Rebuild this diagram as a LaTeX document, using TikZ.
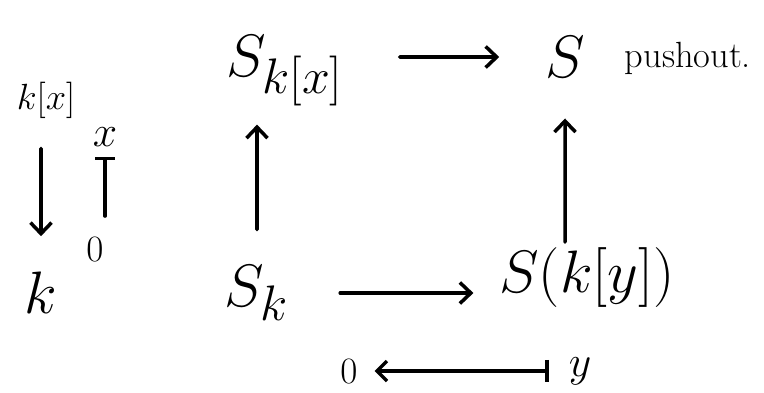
\documentclass[tikz,border=0pt]{standalone}
\usepackage{amsmath,amssymb}
\usetikzlibrary{arrows.meta, positioning, calc}

\begin{document}
\begin{tikzpicture}[>={Straight Barb[length=2.2mm, width=4.2mm]}, line width=2pt, line cap=round,
  obj/.style={font=\Huge, scale=1.37, transform shape, inner sep=1.5pt},
  smallobj/.style={font=\huge, inner sep=2pt},
  lbl/.style={font=\Huge, inner sep=2pt},
  digit/.style={font=\Huge, scale=0.85, transform shape, inner sep=2pt},
  maparrow/.style={->},
  eltarrow/.style={{Bar[width=4.5mm]}-{Straight Barb[length=2mm, width=4mm]}}]

% Frame
\useasboundingbox (0,0) rectangle (15.28,7.84);

% Ring and its quotient
\node[smallobj] (kx) at (0.92,5.84) {$k[x]$};
\node[obj] (kb) at (0.82,1.98) {$k$};
\node[lbl] (xl) at (2.1,5.1) {$x$};
\node[digit] (zl) at (1.9,2.84) {$0$};

% Square
\node[obj] (Skx) at (5.7,6.42) {$S_{k[x]}$};
\node[obj] (Stop) at (11.3,6.7) {$S$};
\node[font=\huge, anchor=base west, inner sep=0pt] (push) at (12.46,6.5) {pushout.};
\node[obj] (Sk) at (5.14,1.98) {$S_k$};
\node[obj] (Sky) at (11.74,2.28) {$S(k[y])$};

% Bottom assignment
\node[digit] (zb) at (6.98,0.4) {$0$};
\node[lbl] (yb) at (11.6,0.42) {$y$};

% Arrows
\draw[maparrow, shorten <=0.5cm, shorten >=0.6cm] (kx.south -| kb) -- (kb);
\draw[{Bar[width=4mm]}-, shorten <=0.1cm, shorten >=0.35cm] (xl.south) -- (xl.south |- zl.north);
\draw[maparrow, shorten <=0.6cm, shorten >=0.25cm] (Sk) -- (Sk |- Skx.south);
\draw[maparrow, shorten >=0.7cm] (Sky.north -| Stop) -- (Stop);
\draw[maparrow, shorten <=1cm, shorten >=0.8cm] (Skx.east |- Stop) -- (Stop);
\draw[maparrow, shorten <=0.9cm, shorten >=0.4cm] (Sk) -- (Sk -| Sky.west);
\draw[eltarrow, shorten <=0.3cm, shorten >=0.25cm] (yb) -- (yb -| zb.east);

\end{tikzpicture}
\end{document}
